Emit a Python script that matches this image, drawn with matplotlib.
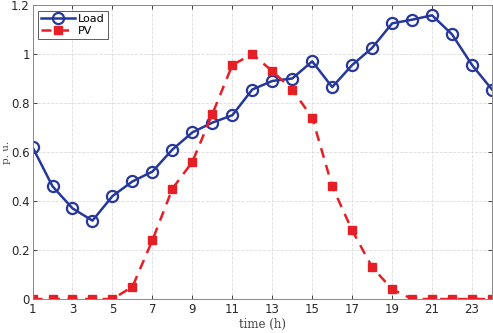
import matplotlib.pyplot as plt
from matplotlib.ticker import FuncFormatter

hours = list(range(1, 25))
load = [0.62, 0.46, 0.37, 0.32, 0.42, 0.48, 0.52, 0.61, 0.68, 0.72, 0.75, 0.855,
        0.89, 0.90, 0.97, 0.865, 0.955, 1.025, 1.125, 1.14, 1.158, 1.08, 0.955, 0.855]
pv = [0, 0, 0, 0, 0, 0.05, 0.24, 0.45, 0.56, 0.755, 0.955, 1.0,
      0.93, 0.855, 0.74, 0.46, 0.28, 0.13, 0.04, 0, 0, 0, 0, 0]
xticks = list(range(1, 25, 2))
yticks = [0, 0.2, 0.4, 0.6, 0.8, 1.0, 1.2]

fig = plt.figure(figsize=(4.93, 3.33), dpi=100)
ax = fig.add_axes([0.066, 0.102, 0.932, 0.883])

ax.plot(hours, load, "-o", color="#26389a", linewidth=1.8, markersize=8,
        markerfacecolor="none", markeredgewidth=1.6, label="Load")
ax.plot(hours, pv, "--s", color="#e61f26", linewidth=1.8, markersize=6,
        markerfacecolor="#e61f26", label="PV", dashes=(4, 3))

ax.set_xlim(1, 24)
ax.set_ylim(0, 1.2)
ax.set_xticks(xticks)
ax.set_yticks(yticks)
ax.yaxis.set_major_formatter(FuncFormatter(lambda v, p: "%g" % v))
ax.tick_params(direction="in", top=True, right=True, labelsize=8.5,
               colors="#262626", length=3, width=0.6, pad=3)
ax.tick_params(axis="y", pad=2)
for s in ax.spines.values():
    s.set_color("#888888")
    s.set_linewidth(0.7)
ax.grid(True, linestyle="--", color="#dcdcdc", linewidth=0.6)

ax.set_xlabel("time (h)", family="serif", fontsize=8.5, color="#444444", labelpad=1)
ax.set_ylabel("p. u.", family="serif", fontsize=7.5, color="#444444")
ax.yaxis.set_label_coords(-0.047, 0.5)

leg = ax.legend(loc="upper left", fontsize=8, frameon=True, fancybox=False,
                edgecolor="#333333", borderpad=0.3, handlelength=3.0,
                handletextpad=0.3, labelspacing=0.2, borderaxespad=0.5)
leg.get_frame().set_linewidth(0.7)

fig.savefig("out.png", dpi=100)
